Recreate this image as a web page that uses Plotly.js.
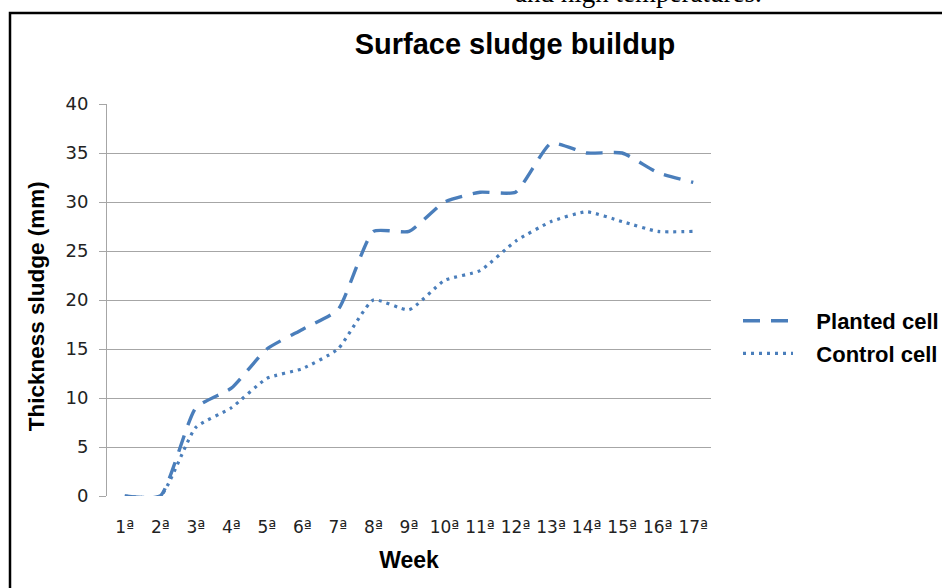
<!DOCTYPE html>
<html>
<head>
<meta charset="utf-8">
<script src="https://cdn.plot.ly/plotly-3.0.1.min.js"></script>
<style>html,body{margin:0;padding:0;background:#fff;}#chart{width:942px;height:588px;}</style>
</head>
<body>
<div id="chart"></div>
<script>
const weeks = ["1ª","2ª","3ª","4ª","5ª","6ª","7ª","8ª","9ª","10ª","11ª","12ª","13ª","14ª","15ª","16ª","17ª"];
const planted = [0,0,9,11,15,17,19,27,27,30,31,31,36,35,35,33,32];
const control = [0,0,7,9,12,13,15,20,19,22,23,26,28,29,28,27,27];
const yTicks = [0,5,10,15,20,25,30,35,40];

const L = 107, R = 711, T = 104, B = 496, W = 942, H = 588;
const px = x => (x - L) / (R - L);
const py = y => (B - y) / (B - T);

const blue = '#4a7ebb';
const traces = [
  {x: weeks, y: planted, name: '&nbsp;&nbsp;&nbsp;<b>Planted cell</b>', type: 'scatter', mode: 'lines', legendgroup: 'a',
   line: {color: blue, width: 3.4, dash: '17px,11px', shape: 'spline', smoothing: 0.5}},
  {x: weeks, y: control, name: '&nbsp;&nbsp;&nbsp;<b>Control cell</b>', type: 'scatter', mode: 'lines', legendgroup: 'b',
   line: {color: blue, width: 3.2, dash: '3px,5px', shape: 'spline', smoothing: 0.5}}
];

const layout = {
  width: W, height: H,
  margin: {l: L, r: W - R, t: T, b: H - B},
  paper_bgcolor: '#fff', plot_bgcolor: '#fff',
  showlegend: true,
  title: {text: '<b>Surface sludge buildup</b>', font: {family: 'Liberation Sans, Arial', size: 29, color: '#000'},
          xref: 'container', x: 515/W, xanchor: 'center', yref: 'container', y: 1 - 44/H, yanchor: 'middle'},
  xaxis: {type: 'category', categoryarray: weeks, range: [-0.5, 16.5],
          showgrid: false, zeroline: false, showline: false, ticks: '', ticklabelstandoff: 19,
          tickfont: {family: 'DejaVu Sans', size: 17, color: '#222'},
          title: {text: '<b>Week</b>', font: {family: 'Liberation Sans, Arial', size: 23, color: '#000'}, standoff: 15}},
  yaxis: {range: [0, 40], tickvals: yTicks, ticktext: yTicks.map(String),
          showgrid: true, gridcolor: '#a6a6a6', gridwidth: 1, zeroline: false,
          showline: true, linecolor: '#a6a6a6', linewidth: 1, ticks: 'outside', ticklen: 7, tickcolor: '#a6a6a6',
          ticklabelstandoff: 7,
          tickfont: {family: 'DejaVu Sans', size: 18, color: '#222'},
          title: {text: '<b>Thickness sludge (mm)</b>&nbsp;&nbsp;', font: {family: 'Liberation Sans, Arial', size: 22.5, color: '#000'}, standoff: 14}},
  legend: {xref: 'container', yref: 'container', x: 738 / W, xanchor: 'left', y: 1 - 300 / H, yanchor: 'top', bgcolor: 'rgba(0,0,0,0)',
           font: {family: 'Liberation Sans, Arial', size: 22, color: '#000'}, itemwidth: 50,
           traceorder: 'grouped', tracegroupgap: 1},
  shapes: [
    {type: 'rect', xref: 'paper', yref: 'paper', x0: px(10), x1: px(950), y0: py(600), y1: py(13),
     line: {color: '#000', width: 2.5}, fillcolor: 'rgba(0,0,0,0)'}
  ],
  annotations: [
    {text: 'and high temperatures.', xref: 'paper', yref: 'paper', x: px(638), y: py(10), xanchor: 'center', yanchor: 'bottom',
     showarrow: false, font: {family: 'Liberation Serif, Times New Roman', size: 27, color: '#000'}}
  ]
};

Plotly.newPlot('chart', traces, layout, {displayModeBar: false, staticPlot: true});
</script>
</body>
</html>
